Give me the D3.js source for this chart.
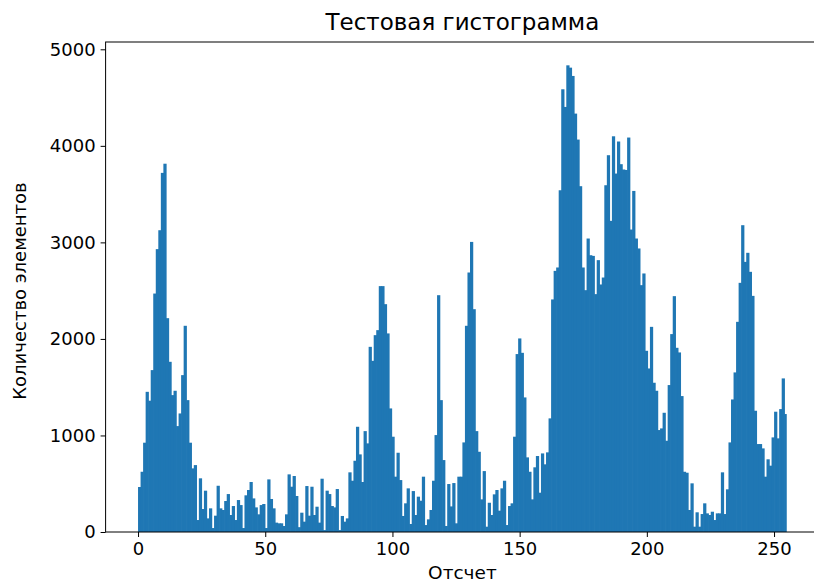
<!DOCTYPE html>
<html>
<head>
<meta charset="utf-8">
<script src="https://cdn.jsdelivr.net/npm/d3@7"></script>
<style>
  body { margin: 0; background: #fff; }
  text { font-family: "DejaVu Sans", sans-serif; }
</style>
</head>
<body>
<svg id="svg" width="814" height="584"></svg>
<script>
// histogram counts, one per bin (0..255)
let counts = [
  466, 624, 925, 1452, 1360, 1677, 2470, 2930, 3126, 3720,
  3815, 2215, 1763, 1418, 1463, 1097, 1228, 1625, 2136, 1366,
  925, 659, 693, 124, 556, 238, 428, 141, 245, 41,
  169, 479, 245, 228, 321, 393, 176, 269, 124, 331,
  279, 41, 380, 435, 518, 348, 255, 183, 279, 290,
  41, 545, 342, 245, 97, 90, 90, 62, 183, 597,
  469, 580, 373, 50, 200, 107, 476, 169, 469, 176,
  262, 97, 552, 20, 428, 393, 269, 255, 445, 20,
  166, 107, 141, 618, 531, 738, 1090, 804, 518, 1045,
  918, 1918, 1773, 2039, 2091, 2547, 2547, 2360, 2057, 1280,
  987, 573, 821, 538, 166, 297, 452, 83, 424, 176,
  366, 324, 573, 72, 131, 228, 531, 1004, 2453, 1366,
  745, 62, 497, 265, 507, 90, 573, 573, 928, 2136,
  2688, 3005, 2308, 1045, 831, 338, 631, 55, 303, 176,
  390, 435, 221, 452, 531, 72, 269, 297, 987, 1843,
  2005, 1856, 1394, 773, 624, 338, 670, 787, 407, 814,
  701, 825, 1177, 2409, 2705, 2740, 3540, 4586, 4403, 4834,
  4810, 4724, 4334, 4065, 3582, 2740, 2505, 3040, 2867, 2860,
  2464, 2816, 2564, 2636, 3592, 3903, 3223, 4099, 3713, 4045,
  3810, 3755, 3750, 4086, 3133, 3533, 3040, 2937, 2557, 2678,
  1877, 1694, 2125, 1546, 1463, 1056, 1073, 1235, 945, 1522,
  2050, 2443, 1908, 1860, 1408, 624, 614, 228, 504, 55,
  204, 55, 186, 297, 193, 176, 210, 124, 193, 193,
  618, 186, 442, 928, 1373, 1653, 2177, 2581, 3178, 2798,
  2892, 2695, 2446, 1256, 911, 911, 866, 573, 753, 687,
  980, 1246, 970, 1273, 1591, 1222
];
let xTicks = [0, 50, 100, 150, 200, 250];
let yTicks = [0, 1000, 2000, 3000, 4000, 5000];
let titleText = 'Тестовая гистограмма';
let xLabel = 'Отсчет';
let yLabel = 'Количество элементов';

let binLo = 0, binHi = 255;
let binW = (binHi - binLo) / counts.length;

let margin = {left: 105.6, top: 42, bottom: 52};
let svg = d3.select('#svg');
let plotW = 819.2 - margin.left;
let plotH = 584 - margin.bottom - margin.top;

let pad = (binHi - binLo) * 0.05;
let x = d3.scaleLinear()
  .domain([binLo - pad, binHi + pad])
  .range([0, plotW]);
let y = d3.scaleLinear()
  .domain([0, d3.max(counts) * 1.05])
  .range([plotH, 0]);

let g = svg.append('g')
  .attr('transform', `translate(${margin.left},${margin.top})`);

// bars overlap a little so no antialiasing seams show between neighbours
let barPx = x(binW) - x(0);
g.append('g')
  .selectAll('rect')
  .data(counts)
  .enter()
  .append('rect')
  .attr('x', (d, i) => x(binLo + i * binW))
  .attr('width', (d, i) => i === counts.length - 1 ? barPx : barPx + 0.7)
  .attr('y', d => y(d))
  .attr('height', d => plotH - y(d))
  .attr('fill', '#1f77b4');

let xAxis = d3.axisBottom(x).tickValues(xTicks).tickFormat(d3.format('d')).tickSize(5).tickPadding(5);
let yAxis = d3.axisLeft(y).tickValues(yTicks).tickFormat(d3.format('d')).tickSize(5).tickPadding(5);

let gx = g.append('g')
  .attr('transform', `translate(0,${plotH})`)
  .call(xAxis);
let gy = g.append('g').call(yAxis);

[gx, gy].forEach(a => {
  a.select('.domain').remove();
  a.selectAll('text')
    .style('font-family', '"DejaVu Sans", sans-serif')
    .style('font-size', '18px')
    .attr('fill', '#000');
  a.selectAll('line').attr('stroke', '#000').attr('stroke-width', 1);
});

// frame
g.append('rect')
  .attr('width', plotW)
  .attr('height', plotH)
  .attr('fill', 'none')
  .attr('stroke', '#000')
  .attr('stroke-width', 1);

svg.append('text')
  .attr('x', margin.left + plotW / 2)
  .attr('y', 30)
  .attr('text-anchor', 'middle')
  .style('font-size', '23px')
  .text(titleText);

svg.append('text')
  .attr('x', margin.left + plotW / 2)
  .attr('y', 579)
  .attr('text-anchor', 'middle')
  .style('font-size', '18.5px')
  .text(xLabel);

svg.append('text')
  .attr('transform', `translate(26,${margin.top + plotH / 2 + 4}) rotate(-90)`)
  .attr('text-anchor', 'middle')
  .style('font-size', '18px')
  .text(yLabel);
</script>
</body>
</html>
